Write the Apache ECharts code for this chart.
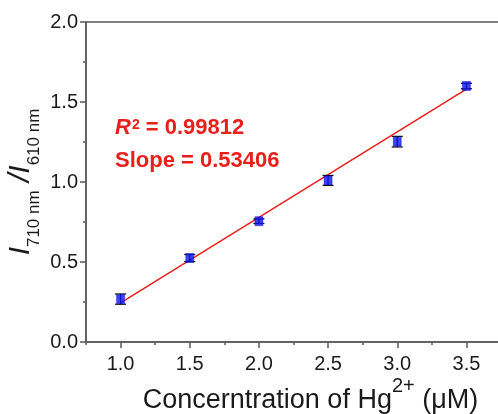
<!DOCTYPE html>
<html>
<head>
<meta charset="utf-8">
<script src="https://cdn.jsdelivr.net/npm/echarts@6/dist/echarts.min.js"></script>
<style>html,body{margin:0;padding:0;background:#fff;}#c{width:498px;height:414px;}</style>
</head>
<body>
<div id="c"></div>
<script>
// Data
var concentration = [1.0, 1.5, 2.0, 2.5, 3.0, 3.5];
var ratio = [0.268, 0.525, 0.755, 1.010, 1.252, 1.600];
var ratioErr = [0.032, 0.022, 0.014, 0.031, 0.033, 0.017];
var fitX = [1.0, 3.5];
var fitY = [0.244, 1.581];
var xMajorTicks = [1.0, 1.5, 2.0, 2.5, 3.0, 3.5];
var xMinorTicks = [0.75, 1.25, 1.75, 2.25, 2.75, 3.25, 3.75];
var annotR2 = '0.99812';
var annotSlope = '0.53406';

var FONT = 'Arial, "Liberation Sans", sans-serif';
var AXIS_COLOR = '#5a5a5a';
var TEXT_COLOR = '#1a1a1a';
var RED = '#e8201c';

var points = concentration.map(function (x, i) { return [x, ratio[i]]; });
var errData = concentration.map(function (x, i) { return [x, ratio[i] - ratioErr[i], ratio[i] + ratioErr[i]]; });
var fitData = fitX.map(function (x, i) { return [x, fitY[i]]; });

var chart = echarts.init(document.getElementById('c'), null, { renderer: 'canvas' });
chart.setOption({
  animation: false,
  backgroundColor: '#fff',
  grid: { left: 86, right: -3, top: 22, bottom: 72, containLabel: false, outerBoundsMode: 'none',
    show: true, borderColor: AXIS_COLOR, borderWidth: 1.5, backgroundColor: 'transparent' },
  xAxis: [{
    type: 'value', min: 0.75, max: 3.75, position: 'bottom',
    axisLine: { show: true, lineStyle: { color: AXIS_COLOR, width: 1.5 } },
    axisTick: { show: true, inside: false, length: 6, customValues: xMajorTicks, lineStyle: { color: AXIS_COLOR, width: 1.5 } },
    axisLabel: { show: true, customValues: xMajorTicks, margin: 12, fontSize: 20, fontFamily: FONT, color: TEXT_COLOR,
      formatter: function (v) { return v.toFixed(1); } },
    splitLine: { show: false },
    name: '{m|Concerntration of Hg}{p|2+}{m| (μM)}',
    nameLocation: 'middle', nameGap: 34, nameMoveOverlap: false,
    nameTextStyle: {
      padding: [0, 0, 0, 34],
      rich: {
        m: { fontSize: 27, fontFamily: FONT, color: TEXT_COLOR, lineHeight: 27, padding: [11, 0, 0, 0], verticalAlign: 'top' },
        p: { fontSize: 20, fontFamily: FONT, color: TEXT_COLOR, lineHeight: 20, verticalAlign: 'top' }
      }
    }
  }, {
    type: 'value', min: 0.75, max: 3.75, position: 'bottom',
    axisLine: { show: false },
    axisTick: { show: true, inside: false, length: 3, customValues: xMinorTicks, lineStyle: { color: AXIS_COLOR, width: 1.5 } },
    axisLabel: { show: false },
    splitLine: { show: false }
  }],
  yAxis: {
    type: 'value', min: 0, max: 2, interval: 0.5,
    axisLine: { show: true, lineStyle: { color: AXIS_COLOR, width: 1.5 } },
    axisTick: { show: true, inside: false, length: 6, lineStyle: { color: AXIS_COLOR, width: 1.5 } },
    minorTick: { show: true, splitNumber: 2, length: 3, lineStyle: { color: AXIS_COLOR, width: 1.5 } },
    axisLabel: { margin: 8, fontSize: 20, fontFamily: FONT, color: TEXT_COLOR,
      formatter: function (v) { return v.toFixed(1); } },
    splitLine: { show: false },
    name: '{i|I}{s|710 nm}{i| /I}{s|610 nm}',
    nameLocation: 'middle', nameRotate: 90, nameGap: 50, nameMoveOverlap: false,
    nameTextStyle: {
      rich: {
        i: { fontSize: 30, fontStyle: 'italic', fontFamily: FONT, color: TEXT_COLOR, lineHeight: 30, verticalAlign: 'top' },
        s: { fontSize: 17, fontFamily: FONT, color: TEXT_COLOR, lineHeight: 17, padding: [20, 0, 0, 0], verticalAlign: 'top' }
      }
    }
  },
  graphic: [{
    type: 'text', left: 115, top: 114, z: 100,
    style: {
      text: '{r|R}{p|2}{t| = ' + annotR2 + '}',
      rich: {
        r: { fontSize: 22, fontWeight: 'bold', fontStyle: 'italic', fontFamily: FONT, fill: RED, lineHeight: 25, verticalAlign: 'bottom' },
        p: { fontSize: 14, fontWeight: 'bold', fontFamily: FONT, fill: RED, lineHeight: 14, padding: [4, 0, 0, 1], verticalAlign: 'top' },
        t: { fontSize: 22, fontWeight: 'bold', fontFamily: FONT, fill: RED, lineHeight: 25, verticalAlign: 'bottom' }
      }
    }
  }, {
    type: 'text', left: 115, top: 150, z: 100,
    style: {
      text: '{t|Slope = ' + annotSlope + '}',
      rich: {
        t: { fontSize: 22, fontWeight: 'bold', fontFamily: FONT, fill: RED, lineHeight: 25 }
      }
    }
  }],
  series: [{
    type: 'line', data: fitData, symbol: 'none', z: 3,
    lineStyle: { color: RED, width: 1.5 }
  }, {
    type: 'custom', data: errData, z: 4,
    renderItem: function (params, api) {
      var x = api.value(0);
      var lo = api.coord([x, api.value(1)]);
      var hi = api.coord([x, api.value(2)]);
      var hw = 5.5;
      var st = { stroke: '#111', lineWidth: 1.3 };
      return { type: 'group', children: [
        { type: 'line', shape: { x1: lo[0], y1: lo[1], x2: hi[0], y2: hi[1] }, style: st },
        { type: 'line', shape: { x1: lo[0] - hw, y1: lo[1], x2: lo[0] + hw, y2: lo[1] }, style: st },
        { type: 'line', shape: { x1: hi[0] - hw, y1: hi[1], x2: hi[0] + hw, y2: hi[1] }, style: st }
      ] };
    }
  }, {
    type: 'scatter', data: points, symbol: 'rect', symbolSize: [8, 9], z: 5,
    itemStyle: { color: '#0a14f0', borderColor: '#0000c0', borderWidth: 0.5 }
  }]
});
</script>
</body>
</html>
